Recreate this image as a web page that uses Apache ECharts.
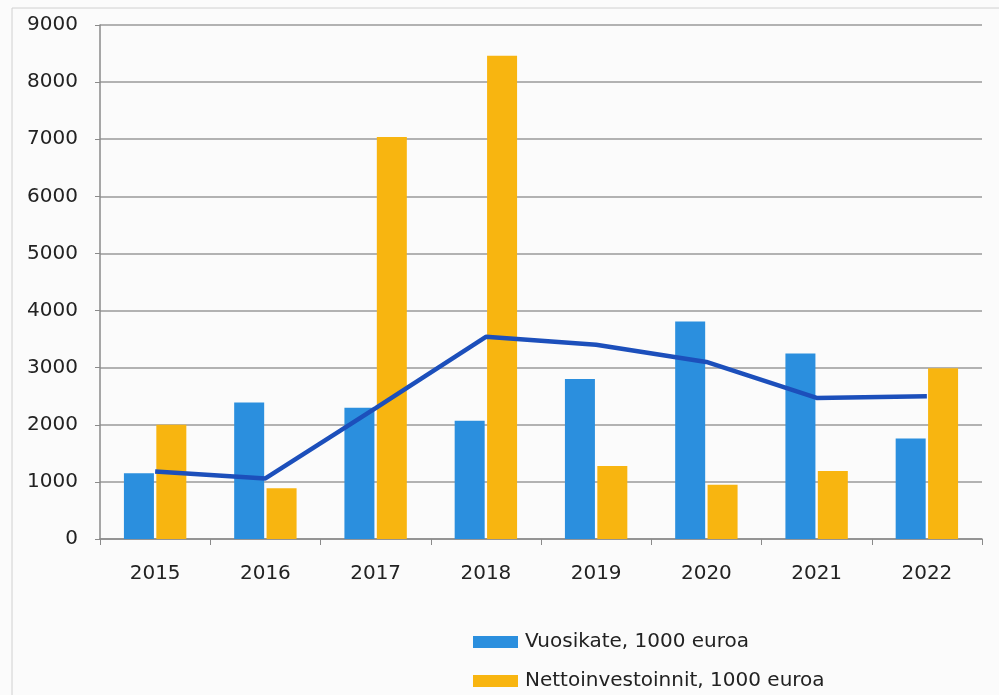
<!DOCTYPE html>
<html>
<head>
<meta charset="utf-8">
<script src="https://cdn.jsdelivr.net/npm/echarts@6/dist/echarts.min.js"></script>
<style>
  html, body { margin: 0; padding: 0; background: #fbfbfb; }
  #chart { width: 999px; height: 695px; }
</style>
</head>
<body>
<div id="chart"></div>
<script>
  // luvut luettu kuvasta
  const years = ['2015', '2016', '2017', '2018', '2019', '2020', '2021', '2022'];
  const vuosikate = [1150, 2390, 2300, 2070, 2800, 3810, 3250, 1760];
  const nettoinvestoinnit = [2000, 890, 7040, 8460, 1280, 950, 1190, 2990];
  const trendi = [1180, 1060, 2290, 3540, 3400, 3100, 2470, 2500];

  const chart = echarts.init(document.getElementById('chart'));
  const fontFamily = '"DejaVu Sans", "Liberation Sans", sans-serif';

  let option = {
    backgroundColor: '#fbfbfb',
    animation: false,
    textStyle: { fontFamily: fontFamily },
    graphic: [
      {
        type: 'rect',
        shape: { x: 12, y: 8, width: 1000, height: 700 },
        style: { fill: 'none', stroke: '#d0d0d0', lineWidth: 1 }
      }
    ],
    grid: {
      left: 100,
      right: 17,
      top: 25,
      bottom: 156
    },
    legend: {
      orient: 'vertical',
      left: 473,
      top: 632,
      padding: 0,
      icon: 'rect',
      itemWidth: 45,
      itemHeight: 12,
      itemGap: 19,
      data: ['Vuosikate, 1000 euroa', 'Nettoinvestoinnit, 1000 euroa'],
      textStyle: { fontSize: 20, color: '#222', fontFamily: fontFamily, padding: [0, 0, 0, 2] }
    },
    xAxis: {
      type: 'category',
      data: years,
      axisLine: { lineStyle: { color: '#8a8a8a', width: 1.5 } },
      axisTick: { show: true, length: 6, lineStyle: { color: '#8a8a8a' } },
      axisLabel: { fontSize: 20, color: '#222', margin: 25 }
    },
    yAxis: {
      type: 'value',
      min: 0,
      max: 9000,
      interval: 1000,
      axisLine: { show: true, lineStyle: { color: '#8a8a8a', width: 1.5 } },
      axisTick: { show: true, length: 5, lineStyle: { color: '#8a8a8a' } },
      axisLabel: {
        fontSize: 20,
        color: '#222',
        margin: 22,
        formatter: function (v) { return String(v); }
      },
      splitLine: { lineStyle: { color: '#9a9a9a', width: 1.5 } }
    },
    series: [
      {
        name: 'Vuosikate, 1000 euroa',
        type: 'bar',
        data: vuosikate,
        barWidth: 30,
        barGap: '8%',
        itemStyle: { color: '#2b8fde' }
      },
      {
        name: 'Nettoinvestoinnit, 1000 euroa',
        type: 'bar',
        data: nettoinvestoinnit,
        barWidth: 30,
        barGap: '8%',
        itemStyle: { color: '#f8b510' }
      },
      {
        name: 'Trendi',
        type: 'line',
        data: trendi,
        showSymbol: false,
        symbol: 'none',
        lineStyle: { color: '#1c4fbb', width: 4.5 },
        z: 5
      }
    ]
  };

  chart.setOption(option);
  window.addEventListener('resize', function () {
    chart.resize();
  });
</script>
</body>
</html>
